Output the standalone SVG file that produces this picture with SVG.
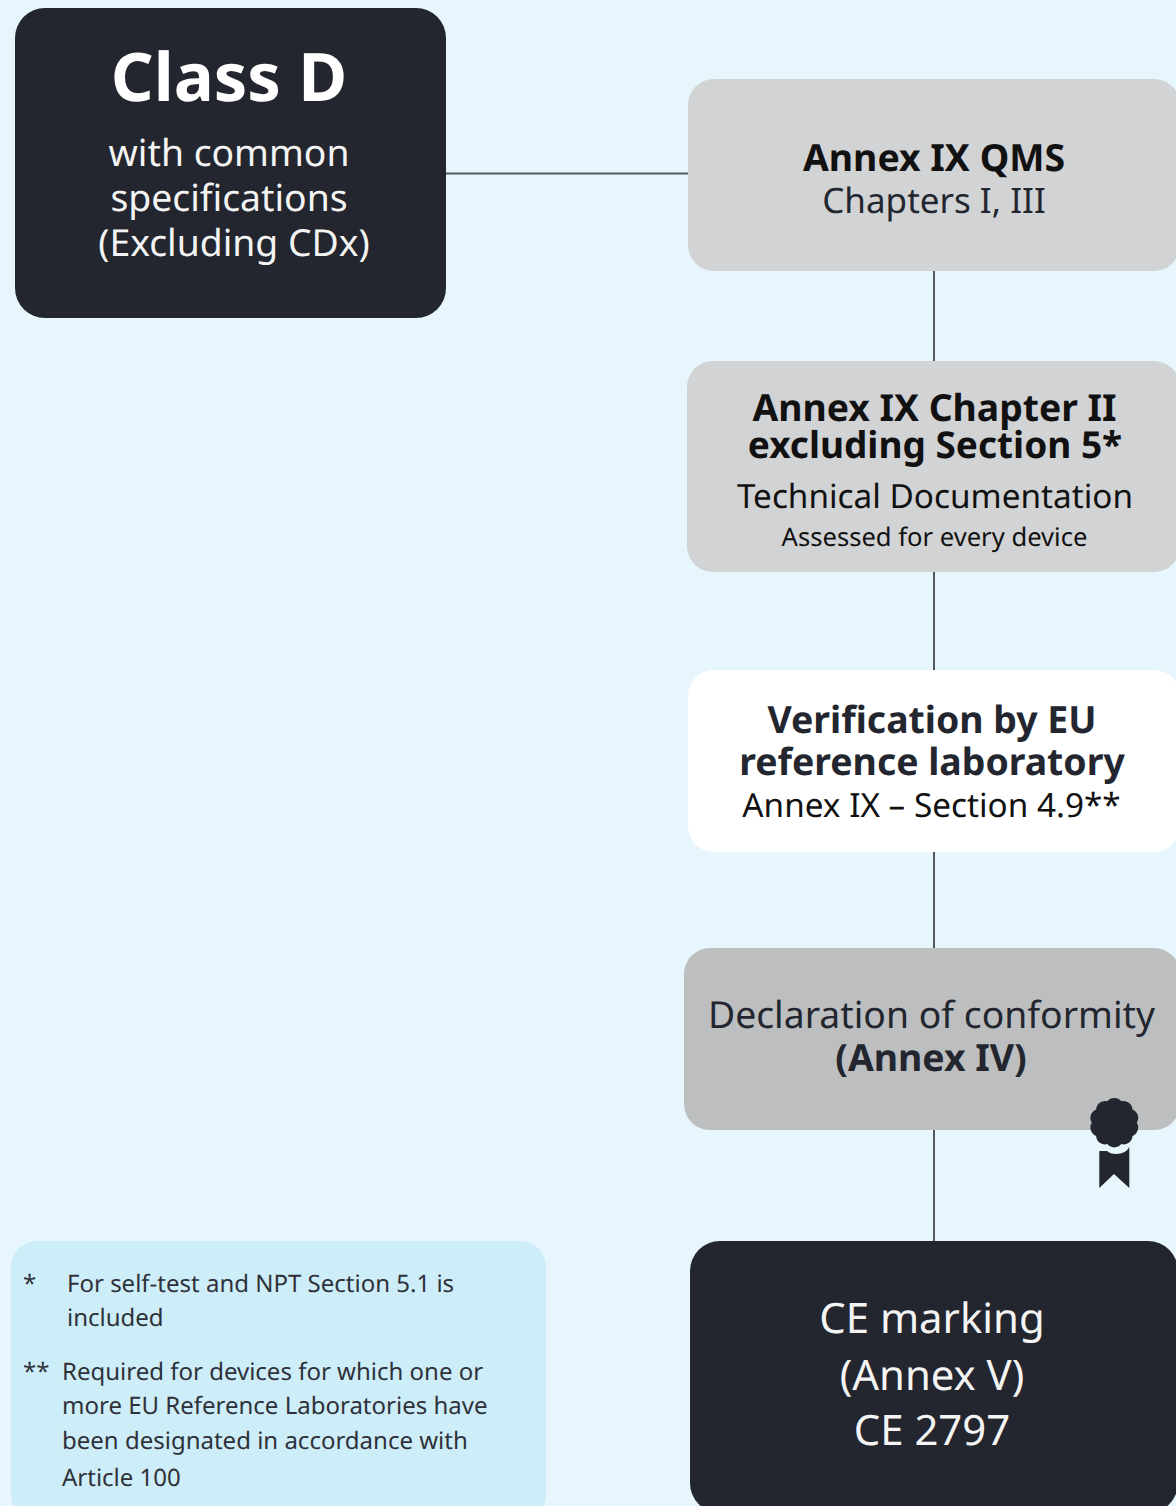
<svg xmlns="http://www.w3.org/2000/svg" width="1176" height="1506" viewBox="0 0 1176 1506">
<style>
text{font-family:"Noto Sans","Open Sans",sans-serif;text-anchor:middle;text-rendering:geometricPrecision}
.c{stroke:#55585f;stroke-width:2;fill:none}
.b{font-weight:700}
.n{font-size:24px;fill:#2f323a;text-anchor:start}
</style>
<rect width="1176" height="1506" fill="#e6f6fc"/>
<g id="connectors">
<path class="c" d="M446 173.500H688"/>
<path class="c" d="M934 271V361"/>
<path class="c" d="M934 572V670"/>
<path class="c" d="M934 852V948"/>
<path class="c" d="M934 1130V1241"/>
</g>
<g id="class-d">
<rect x="15" y="8" width="431" height="310" rx="30" fill="#23262f"/>
<text x="229" y="101" font-size="66.900" class="b" fill="#fff">Class D</text>
<text x="229" y="166" font-size="37.300" fill="#f4f4f4">with common</text>
<text x="229" y="211" font-size="37.300" fill="#f4f4f4">specifications</text>
<text x="234" y="256" font-size="37.300" fill="#f4f4f4">(Excluding CDx)</text>
</g>
<g id="qms">
<rect x="688" y="79" width="492" height="192" rx="26" fill="#d1d3d4"/>
<text x="934" y="171" font-size="37.400" class="b" fill="#111">Annex IX QMS</text>
<text x="934" y="213" font-size="35" fill="#23262f">Chapters I, III</text>
</g>
<g id="chapter2">
<rect x="687" y="361" width="493" height="211" rx="26" fill="#d1d3d4"/>
<text x="934.500" y="421" font-size="37.300" class="b" fill="#111">Annex IX Chapter II</text>
<text x="935" y="458" font-size="37" class="b" fill="#111">excluding Section 5*</text>
<text x="935" y="508" font-size="33.300" fill="#111">Technical Documentation</text>
<text x="934.500" y="546" font-size="25.600" fill="#111">Assessed for every device</text>
</g>
<g id="verification">
<rect x="688" y="670" width="492" height="182" rx="26" fill="#fff"/>
<text x="932" y="733" font-size="37.400" class="b" fill="#23262f">Verification by EU</text>
<text x="932" y="775" font-size="37.400" class="b" fill="#23262f">reference laboratory</text>
<text x="931.500" y="817" font-size="33.300" fill="#111">Annex IX – Section 4.9**</text>
</g>
<g id="declaration">
<rect x="684" y="948" width="496" height="182" rx="26" fill="#bcbec0"/>
<text x="931.500" y="1028" font-size="37.300" fill="#23262f">Declaration of conformity</text>
<text x="931" y="1071" font-size="37.400" class="b" fill="#23262f">(Annex IV)</text>
<path transform="translate(1114.300 1122.700)" d="M6.950-21.400A9 9 0 0 1 18.200-13.200A9 9 0 0 1 22.500 0A9 9 0 0 1 18.200 13.200A9 9 0 0 1 6.950 21.400A9 9 0 0 1-6.950 21.400A9 9 0 0 1-18.200 13.200A9 9 0 0 1-22.500 0A9 9 0 0 1-18.200-13.200A9 9 0 0 1-6.950-21.400A9 9 0 0 1 6.950-21.400Z" fill="#23262f"/>
<path d="M1099.300 1151L1107 1151Q1110 1154 1116 1154Q1126 1154 1129.300 1147V1188L1114 1174L1099.300 1188Z" fill="#23262f"/>
</g>
<g id="ce">
<rect x="690" y="1241" width="488" height="272" rx="30" fill="#23262f"/>
<text x="932" y="1333" font-size="41.900" fill="#f4f4f4">CE marking</text>
<text x="932" y="1390" font-size="41.900" fill="#f4f4f4">(Annex V)</text>
<text x="932" y="1445" font-size="41.900" fill="#f4f4f4">CE 2797</text>
</g>
<g id="notes">
<rect x="11" y="1241" width="535" height="280" rx="26" fill="#cdedf8"/>
<text class="n" x="23" y="1292">*</text>
<text class="n" x="67" y="1292">For self-test and NPT Section 5.1 is</text>
<text class="n" x="67" y="1326">included</text>
<text class="n" x="23" y="1380">**</text>
<text class="n" x="62" y="1380">Required for devices for which one or</text>
<text class="n" x="62" y="1414">more EU Reference Laboratories have</text>
<text class="n" x="62" y="1449">been designated in accordance with</text>
<text class="n" x="62" y="1486">Article 100</text>
</g>
</svg>
